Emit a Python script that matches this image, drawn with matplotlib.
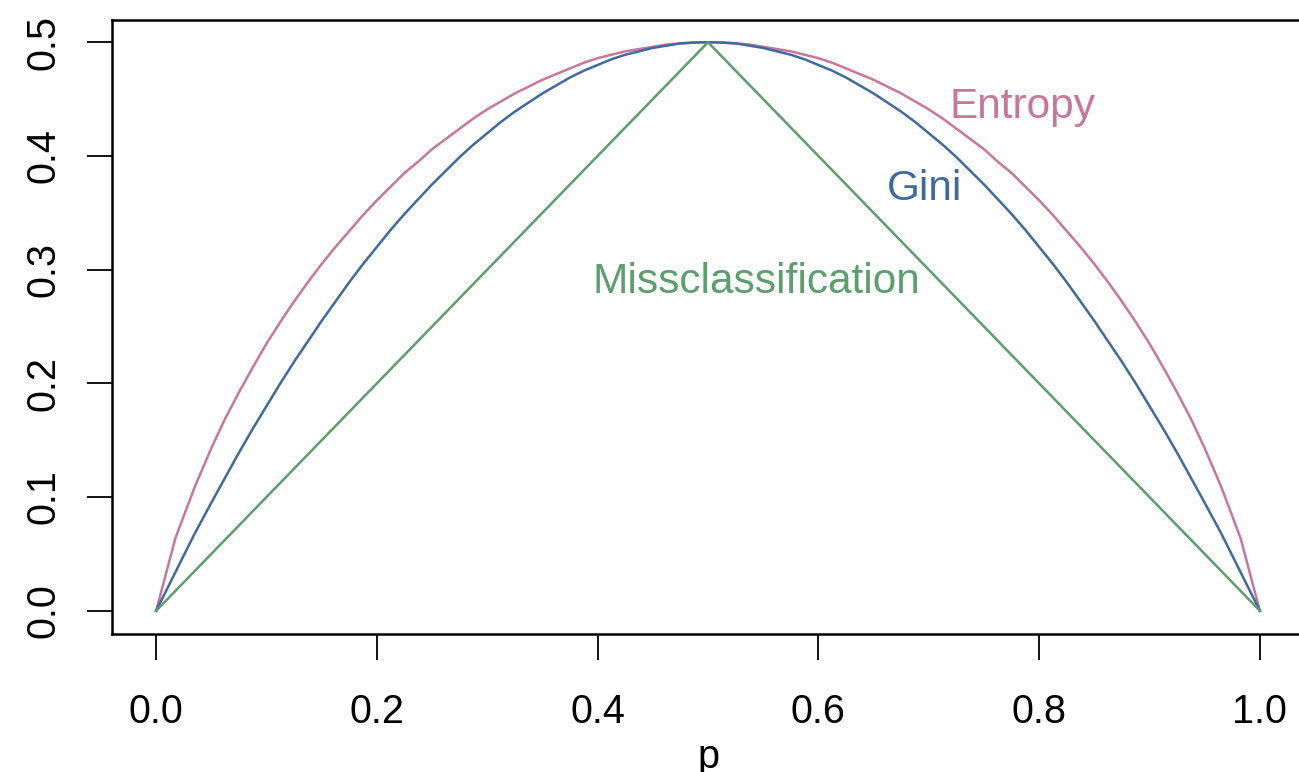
import matplotlib
matplotlib.use("Agg")
import matplotlib.pyplot as plt

plt.rcParams['font.family'] = ['Liberation Sans', 'DejaVu Sans']

# impurity measures for a two-class node, as a function of p
p = [0, 0.0175, 0.035, 0.05, 0.0625, 0.075, 0.0875, 0.1, 0.1125, 0.125, 0.1375, 0.15,
     0.1625, 0.175, 0.1875, 0.2, 0.2125, 0.225, 0.2375, 0.25, 0.2625, 0.275, 0.2875,
     0.3, 0.3125, 0.325, 0.3375, 0.35, 0.3625, 0.375, 0.3875, 0.4, 0.4125, 0.425,
     0.4375, 0.45, 0.4625, 0.475, 0.4875, 0.5,
     0.5125, 0.525, 0.5375, 0.55, 0.5625, 0.575, 0.5875, 0.6, 0.6125, 0.625, 0.6375,
     0.65, 0.6625, 0.675, 0.6875, 0.7, 0.7125, 0.725, 0.7375, 0.75, 0.7625, 0.775,
     0.7875, 0.8, 0.8125, 0.825, 0.8375, 0.85, 0.8625, 0.875, 0.8875, 0.9, 0.9125,
     0.925, 0.9375, 0.95, 0.965, 0.9825, 1.0]
entropy = [0, 0.064, 0.109, 0.143, 0.169, 0.192, 0.214, 0.235, 0.254, 0.272, 0.289, 0.305,
           0.320, 0.334, 0.348, 0.361, 0.373, 0.385, 0.395, 0.406, 0.415, 0.424, 0.433,
           0.441, 0.448, 0.455, 0.461, 0.467, 0.472, 0.477, 0.482, 0.486, 0.489, 0.492,
           0.494, 0.496, 0.498, 0.499, 0.4998, 0.500,
           0.4998, 0.499, 0.498, 0.496, 0.494, 0.492, 0.489, 0.486, 0.482, 0.477, 0.472,
           0.467, 0.461, 0.455, 0.448, 0.441, 0.433, 0.424, 0.415, 0.406, 0.395, 0.385,
           0.373, 0.361, 0.348, 0.334, 0.320, 0.305, 0.289, 0.272, 0.254, 0.235, 0.214,
           0.192, 0.169, 0.143, 0.109, 0.064, 0]
gini = [0, 0.034, 0.068, 0.095, 0.117, 0.139, 0.160, 0.180, 0.200, 0.219, 0.237, 0.255,
        0.272, 0.289, 0.305, 0.320, 0.335, 0.349, 0.362, 0.375, 0.387, 0.399, 0.410,
        0.420, 0.430, 0.439, 0.447, 0.455, 0.462, 0.469, 0.475, 0.480, 0.485, 0.489,
        0.492, 0.495, 0.497, 0.499, 0.4997, 0.500,
        0.4997, 0.499, 0.497, 0.495, 0.492, 0.489, 0.485, 0.480, 0.475, 0.469, 0.462,
        0.455, 0.447, 0.439, 0.430, 0.420, 0.410, 0.399, 0.387, 0.375, 0.362, 0.349,
        0.335, 0.320, 0.305, 0.289, 0.272, 0.255, 0.237, 0.219, 0.200, 0.180, 0.160,
        0.139, 0.117, 0.095, 0.068, 0.034, 0]
p_mis = [0, 0.5, 1.0]
misclass = [0, 0.5, 0]

xticks = [0.0, 0.2, 0.4, 0.6, 0.8, 1.0]
yticks = [0.0, 0.1, 0.2, 0.3, 0.4, 0.5]

col_ent = '#C8779B'
col_gini = '#3F6AA0'
col_mis = '#5C9E6C'

fig = plt.figure(figsize=(12.99, 7.72), dpi=100)
W, H = 1299, 772
# box runs a little past the right edge of the canvas
ax = fig.add_axes([112 / W, (H - 633.5) / H, (1304 - 112) / W, (633.5 - 19.5) / H])

ax.plot(p, entropy, color=col_ent, lw=1.8)
ax.plot(p, gini, color=col_gini, lw=1.8)
ax.plot(p_mis, misclass, color=col_mis, lw=1.8)

fs = 28.5
lfs = 30.5
ax.text(0.785, 0.433, "Entropy", color=col_ent, fontsize=lfs, ha='center', va='baseline')
ax.text(0.696, 0.361, "Gini", color=col_gini, fontsize=lfs, ha='center', va='baseline')
ax.text(0.544, 0.2795, "Missclassification", color=col_mis, fontsize=lfs, ha='center', va='baseline')

ax.set_xlim(-0.04, 1.04)
ax.set_ylim(-0.02, 0.52)
ax.set_xticks(xticks)
ax.set_xticklabels([f"{t:.1f}" for t in xticks])
ax.set_yticks(yticks)
ax.set_yticklabels([f"{t:.1f}" for t in yticks], rotation=90, va='center')

ax.tick_params(axis='x', length=19, width=1.3, pad=24, labelsize=fs)
ax.tick_params(axis='y', length=18, width=1.3, pad=18, labelsize=fs)

for side in ['left', 'right', 'top', 'bottom']:
    ax.spines[side].set_linewidth(1.8)

ax.set_xlabel("p", fontsize=fs, labelpad=5)

fig.savefig("out.png", dpi=100)
